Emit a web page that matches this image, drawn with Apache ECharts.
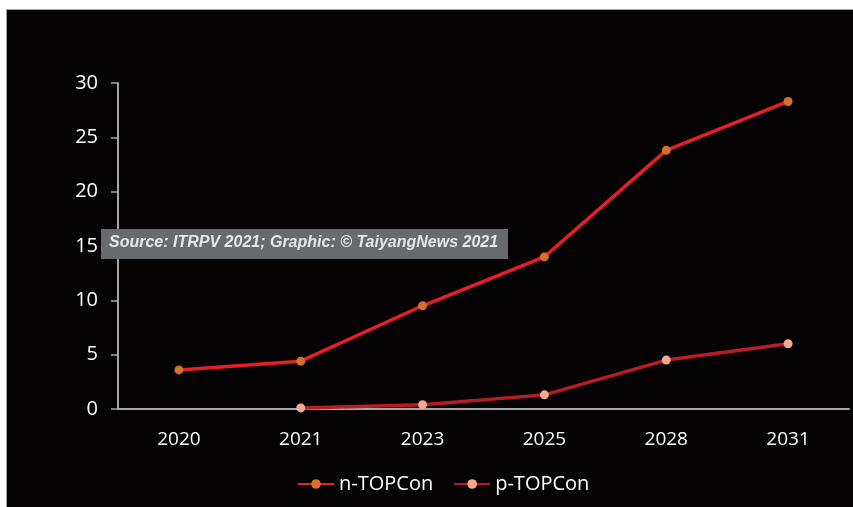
<!DOCTYPE html>
<html>
<head>
<meta charset="utf-8">
<script src="https://cdn.jsdelivr.net/npm/echarts@6/dist/echarts.min.js"></script>
<style>
html,body{margin:0;padding:0;background:#fff;}
#c{width:853px;height:507px;}
</style>
</head>
<body>
<div id="c"></div>
<script>
const categories = ['2020','2021','2023','2025','2028','2031'];
const nTOPCon = [3.6, 4.4, 9.5, 14.0, 23.8, 28.3];
const pTOPCon = [null, 0.1, 0.4, 1.3, 4.5, 6.0];
const yTicks = [0, 5, 10, 15, 20, 25, 30];
const sourceText = 'Source: ITRPV 2021; Graphic: \u00A9 TaiyangNews 2021';

const chart = echarts.init(document.getElementById('c'), null, {renderer:'canvas'});
chart.setOption({
  backgroundColor: '#ffffff',
  animation: false,
  graphic: [
    {type:'rect', z:-10, shape:{x:6.5, y:9.5, width:850, height:500}, style:{fill:'#050303', stroke:'#a0a0a0', lineWidth:1}},
    {type:'rect', z:100, shape:{x:101, y:229, width:407, height:30}, style:{fill:'#696a6e'}},
    {type:'text', z:101, left:109, top:235, style:{text:sourceText, fill:'#e6e6e6', font:'italic bold 16px "Liberation Sans", Arial, sans-serif'}}
  ],
  grid: {left:118, right:4, top:83, bottom:98, containLabel:false},
  legend: {
    bottom: 8, left: 292,
    itemWidth: 36, itemHeight: 12, itemGap: 20,
    textStyle: {color:'#ffffff', fontSize:20, fontFamily:'"Open Sans", "Noto Sans", sans-serif'},
    data: ['n-TOPCon','p-TOPCon']
  },
  xAxis: {
    type:'category', data: categories, boundaryGap: true,
    axisLine:{show:true, lineStyle:{color:'#a6a6a6', width:2}},
    axisTick:{show:false},
    axisLabel:{color:'#ffffff', fontSize:19, margin:21, fontFamily:'"Open Sans", "Noto Sans", sans-serif'},
    splitLine:{show:false}
  },
  yAxis: {
    type:'value', min:0, max:30, interval:5,
    axisLine:{show:true, lineStyle:{color:'#a6a6a6', width:2}},
    axisTick:{show:true, length:7, lineStyle:{color:'#a6a6a6', width:1.5}},
    axisLabel:{color:'#ffffff', fontSize:20, margin:20, fontFamily:'"Open Sans", "Noto Sans", sans-serif',
      formatter: v => yTicks.includes(v) ? String(v) : ''},
    splitLine:{show:false}
  },
  series: [
    {name:'n-TOPCon', type:'line', data:nTOPCon, symbol:'circle', symbolSize:9,
      lineStyle:{color:'#e51f26', width:3.5}, itemStyle:{color:'#d5702c'}},
    {name:'p-TOPCon', type:'line', data:pTOPCon, symbol:'circle', symbolSize:9,
      lineStyle:{color:'#b81d25', width:3.5}, itemStyle:{color:'#f2a98f'}}
  ]
});
</script>
</body>
</html>
